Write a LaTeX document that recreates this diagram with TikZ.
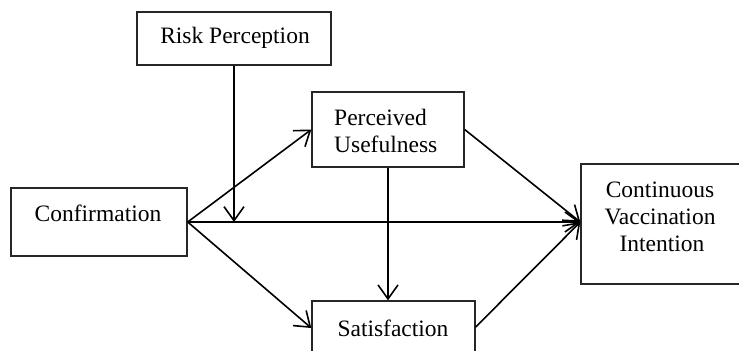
\documentclass[tikz,border=0pt]{standalone}
\usepackage{fontspec}
\setmainfont{Liberation Serif}
\usetikzlibrary{arrows.meta,calc}
\begin{document}
\begin{tikzpicture}[x=1bp,y=-1bp,
  box/.style={draw=black!85,line width=1.4bp,minimum width=#1,inner sep=0pt},
  lbl/.style={inner sep=0pt,font=\fontsize{23.5bp}{27bp}\selectfont},
  conn/.style={line width=1.6bp,-{Straight Barb[length=14bp,width=20bp,line width=1.6bp]}}]
\clip (0,0) rectangle (739,350);
\fill[white] (0,0) rectangle (739,350);
% boxes
\node[box=194bp,minimum height=53bp] (rp) at (234,38.5) {};
\node[box=152bp,minimum height=75bp] (pu) at (388,129.5) {};
\node[box=176bp,minimum height=68bp] (conf) at (99,222) {};
\node[box=163bp,minimum height=70bp] (sat) at (393.5,336) {};
\node[box=180bp,minimum height=120bp] (cvi) at (671,224) {};
% labels
\node[lbl] (rpt) at (235,38) {Risk Perception};
\node[lbl,anchor=west,align=left] (put) at (334,131) {Perceived\\Usefulness};
\node[lbl] (conft) at (98,213) {Confirmation};
\node[lbl] (satt) at (393,328) {Satisfaction};
\node[lbl,align=center] (cvit) at (660,216.5) {Continuous\\Vaccination\\\,Intention};
% connector points
\coordinate (cin) at ([yshift=2bp]cvi.west);
\coordinate (mod) at (rp.south |- conf.east);
% connectors
\draw[conn] (conf.east) -- (pu.west);
\draw[conn] (conf.east) -- ([yshift=8bp]sat.west);
\draw[conn] (conf.east) -- (conf.east -| cin);
\draw[conn] (rp.south) -- (mod);
\draw[conn] (pu.south) -- (pu.south |- sat.north);
\draw[conn] (pu.east) -- (cin);
\draw[conn] ([yshift=9bp]sat.east) -- (cin);
\end{tikzpicture}
\end{document}
